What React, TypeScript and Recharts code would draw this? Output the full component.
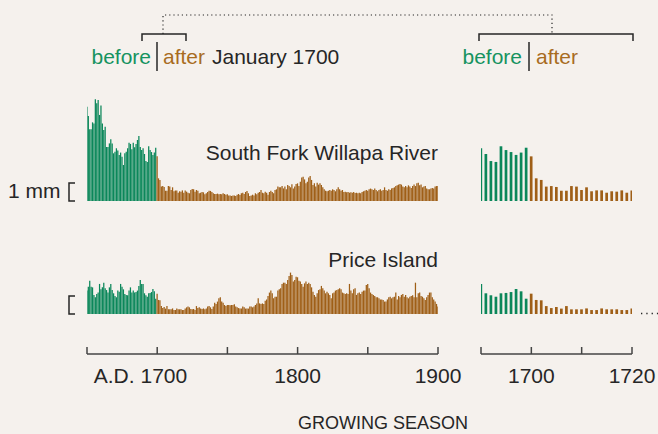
import React from 'react';
import { BarChart, Bar, XAxis, YAxis, Cell } from 'recharts';

// ring width in mm, one value per year starting at 1650
const firstYear = 1650;
const changeYear = 1700;

const willapaMm = [
  5.24, 4.72, 3.98, 3.98, 4.37, 4.31, 5.65, 5.43, 5.61, 4.78, // 1650
  5.3, 4.3, 3.94, 4.13, 3.0, 3.0, 3.2, 3.43, 3.2, 2.65, // 1660
  2.74, 2.93, 2.8, 2.56, 2.69, 2.46, 2.0, 2.65, 2.74, 2.93, // 1670
  3.24, 3.17, 2.87, 3.24, 2.98, 3.17, 3.39, 3.61, 3.0, 2.83, // 1680
  2.93, 2.61, 2.22, 2.17, 3.04, 2.83, 2.72, 2.56, 2.69, 2.96, // 1690
  2.48, 1.26, 1.17, 0.8, 0.83, 0.78, 0.57, 0.57, 0.83, 0.8, // 1700
  0.61, 0.76, 0.54, 0.59, 0.59, 0.46, 0.54, 0.52, 0.59, 0.46, // 1710
  0.59, 0.52, 0.46, 0.43, 0.61, 0.67, 0.65, 0.52, 0.61, 0.57, // 1720
  0.43, 0.46, 0.5, 0.48, 0.37, 0.43, 0.5, 0.57, 0.56, 0.5, // 1730
  0.43, 0.39, 0.39, 0.41, 0.37, 0.39, 0.37, 0.43, 0.39, 0.35, // 1740
  0.37, 0.31, 0.3, 0.28, 0.3, 0.31, 0.28, 0.35, 0.39, 0.33, // 1750
  0.43, 0.46, 0.39, 0.5, 0.56, 0.43, 0.28, 0.31, 0.35, 0.31, // 1760
  0.43, 0.37, 0.46, 0.5, 0.61, 0.46, 0.43, 0.52, 0.46, 0.35, // 1770
  0.5, 0.57, 0.5, 0.43, 0.61, 0.65, 0.8, 0.76, 0.76, 0.83, // 1780
  0.7, 0.8, 0.65, 0.89, 0.83, 0.76, 0.93, 0.7, 0.8, 0.94, // 1790
  0.98, 0.83, 1.07, 1.31, 1.35, 1.2, 0.98, 1.07, 1.31, 1.39, // 1800
  1.17, 0.89, 0.98, 0.8, 1.02, 0.91, 0.98, 0.89, 0.76, 0.65, // 1810
  0.57, 0.54, 0.57, 0.61, 0.57, 0.65, 0.61, 0.54, 0.65, 0.76, // 1820
  0.65, 0.57, 0.61, 0.5, 0.52, 0.48, 0.5, 0.46, 0.48, 0.46, // 1830
  0.5, 0.44, 0.46, 0.43, 0.46, 0.43, 0.5, 0.54, 0.57, 0.61, // 1840
  0.57, 0.65, 0.69, 0.65, 0.61, 0.7, 0.61, 0.54, 0.61, 0.65, // 1850
  0.57, 0.61, 0.76, 0.61, 0.57, 0.65, 0.61, 0.7, 0.72, 0.76, // 1860
  0.83, 0.87, 0.91, 0.94, 0.91, 0.8, 0.76, 0.83, 0.76, 0.87, // 1870
  0.8, 0.72, 0.83, 0.91, 0.83, 0.98, 1.02, 0.87, 0.91, 0.76, // 1880
  0.8, 0.83, 0.69, 0.65, 0.65, 0.69, 0.72, 0.69, 0.8, 0.83, // 1890
  0.83, // 1900
];

const priceIslandMm = [
  1.3, 1.52, 1.85, 1.52, 1.48, 1.06, 0.93, 1.11, 1.19, 1.67, // 1650
  1.37, 1.48, 1.74, 1.43, 1.33, 1.19, 1.48, 1.67, 1.33, 1.15, // 1660
  1.0, 0.93, 1.3, 1.24, 1.67, 1.52, 1.37, 1.11, 1.06, 1.04, // 1670
  1.3, 1.48, 1.19, 1.3, 1.19, 1.22, 1.3, 1.56, 1.89, 1.67, // 1680
  1.67, 1.15, 1.04, 0.96, 1.15, 1.17, 1.22, 1.39, 1.26, 0.85, // 1690
  1.13, 0.78, 0.76, 0.44, 0.33, 0.39, 0.3, 0.44, 0.26, 0.26, // 1700
  0.26, 0.31, 0.22, 0.22, 0.31, 0.26, 0.26, 0.26, 0.22, 0.22, // 1710
  0.31, 0.37, 0.41, 0.37, 0.28, 0.26, 0.28, 0.22, 0.44, 0.33, // 1720
  0.37, 0.31, 0.28, 0.31, 0.26, 0.31, 0.41, 0.44, 0.37, 0.28, // 1730
  0.41, 0.63, 0.56, 0.69, 0.87, 0.93, 0.69, 0.63, 0.5, 0.44, // 1740
  0.5, 0.5, 0.48, 0.5, 0.5, 0.54, 0.41, 0.37, 0.33, 0.31, // 1750
  0.31, 0.41, 0.37, 0.3, 0.31, 0.3, 0.41, 0.41, 0.37, 0.41, // 1760
  0.5, 0.59, 0.87, 0.59, 0.56, 0.59, 0.56, 0.74, 0.81, 1.0, // 1770
  1.19, 1.3, 1.15, 0.87, 0.96, 0.96, 1.3, 1.37, 1.43, 1.67, // 1780
  1.74, 1.74, 1.67, 1.89, 2.11, 2.3, 2.17, 1.8, 1.89, 2.07, // 1790
  2.04, 1.85, 1.8, 1.67, 1.52, 1.7, 1.8, 1.67, 1.74, 1.67, // 1800
  1.48, 1.24, 1.06, 0.96, 1.15, 1.33, 1.37, 1.56, 1.43, 1.3, // 1810
  1.15, 1.24, 1.15, 1.06, 0.87, 1.15, 1.19, 1.3, 1.33, 1.37, // 1820
  1.43, 1.37, 1.19, 1.15, 1.11, 1.15, 1.11, 1.67, 1.3, 1.15, // 1830
  1.37, 1.43, 1.06, 1.15, 1.19, 1.11, 1.24, 1.3, 1.3, 1.61, // 1840
  1.67, 1.43, 1.19, 1.11, 1.06, 1.0, 0.93, 0.93, 0.87, 0.81, // 1850
  0.81, 0.78, 0.69, 0.69, 0.81, 0.93, 0.96, 0.87, 0.93, 0.96, // 1860
  1.19, 0.81, 1.0, 0.93, 1.06, 1.11, 0.96, 1.06, 0.93, 0.87, // 1870
  0.96, 1.0, 1.04, 0.93, 1.74, 0.93, 1.15, 1.19, 1.0, 0.96, // 1880
  0.87, 0.78, 0.93, 1.06, 1.19, 1.19, 0.93, 0.81, 0.69, 0.56, // 1890
  0.41, // 1900
];

const longRange = [1650, 1900];
const longTicks = [1650, 1700, 1750, 1800, 1850, 1900];
const longLabels: Record<number, string> = { 1700: 'A.D. 1700', 1800: '1800', 1900: '1900' };

const zoomRange = [1690, 1720];
const zoomTicks = [1690, 1700, 1710, 1720];
const zoomLabels: Record<number, string> = { 1700: '1700', 1720: '1720' };

const GREEN = '#0b875a';
const BROWN = '#9f5f17';
const GREEN_TEXT = '#16935f';
const BROWN_TEXT = '#a86c1f';
const BG = '#f5f1ed';
const INK = '#262626';
const AXIS = '#444444';
const FONT = '"Liberation Sans", Arial, Helvetica, sans-serif';

const toRows = (values: number[]) => values.map((mm, i) => ({ year: firstYear + i, mm }));
const inRange = (rows: { year: number; mm: number }[], range: number[]) =>
  rows.filter((r) => r.year >= range[0] && r.year <= range[1]);

const willapaRows = toRows(willapaMm);
const priceRows = toRows(priceIslandMm);

const PAD = 6;
const AXIS_PAD = 40;

type SeriesProps = {
  rows: { year: number; mm: number }[];
  range: number[];
  yMax: number;
  left: number;
  top: number;
  plotWidth: number;
  height: number;
  barSize: number;
};

const Series = ({ rows, range, yMax, left, top, plotWidth, height, barSize }: SeriesProps) => (
  <div style={{ position: 'absolute', left: left - PAD, top }}>
    <BarChart
      width={plotWidth + PAD * 2}
      height={height}
      data={rows}
      margin={{ top: 0, right: PAD, bottom: 0, left: PAD }}
    >
      <XAxis dataKey="year" type="number" domain={range} hide allowDataOverflow />
      <YAxis type="number" domain={[0, yMax]} hide allowDataOverflow />
      <Bar dataKey="mm" isAnimationActive={false} barSize={barSize}>
        {rows.map((r) => (
          <Cell key={r.year} fill={r.year < changeYear ? GREEN : BROWN} />
        ))}
      </Bar>
    </BarChart>
  </div>
);

type AxisProps = {
  rows: { year: number; mm: number }[];
  range: number[];
  ticks: number[];
  labels: Record<number, string>;
  left: number;
  lineY: number;
  plotWidth: number;
};

const YearAxis = ({ rows, range, ticks, labels, left, lineY, plotWidth }: AxisProps) => {
  const renderTick = (props: any) => {
    const { x, y, payload } = props;
    const label = labels[payload.value];
    const isAD = label && label.startsWith('A.D.');
    return (
      <g>
        <line x1={x} x2={x} y1={y - 7} y2={y} stroke={AXIS} strokeWidth={1.5} />
        {label && (
          <text
            x={isAD ? x + 30 : x}
            y={y + 29}
            textAnchor={isAD ? 'end' : 'middle'}
            fontSize={21}
            fontFamily={FONT}
            fill={INK}
          >
            {label}
          </text>
        )}
      </g>
    );
  };
  return (
    <div style={{ position: 'absolute', left: left - AXIS_PAD, top: lineY - 20 }}>
      <BarChart
        width={plotWidth + AXIS_PAD * 2}
        height={80}
        data={rows}
        margin={{ top: 0, right: AXIS_PAD, bottom: 0, left: AXIS_PAD }}
      >
        <XAxis
          dataKey="year"
          type="number"
          domain={range}
          ticks={ticks}
          interval={0}
          tickSize={0}
          tickMargin={0}
          tickLine={false}
          axisLine={{ stroke: AXIS, strokeWidth: 1.5 }}
          height={60}
          tick={renderTick}
        />
        <YAxis hide />
      </BarChart>
    </div>
  );
};

const txt = { fontFamily: FONT, fontSize: 21 } as const;

export default function App() {
  return (
    <div
      style={{
        position: 'absolute',
        left: 0,
        top: 0,
        width: 658,
        height: 434,
        background: BG,
        overflow: 'hidden',
      }}
    >
      {/* long record */}
      <Series rows={willapaRows} range={longRange} yMax={6.5} left={87} top={84} plotWidth={351} height={117} barSize={1.25} />
      <Series rows={priceRows} range={longRange} yMax={3} left={87} top={260} plotWidth={351} height={54} barSize={1.25} />
      <YearAxis rows={willapaRows} range={longRange} ticks={longTicks} labels={longLabels} left={87} lineY={354} plotWidth={351} />

      {/* close-up around 1700 */}
      <Series rows={inRange(willapaRows, zoomRange)} range={zoomRange} yMax={6.5} left={481} top={84} plotWidth={151} height={117} barSize={2.7} />
      <Series rows={inRange(priceRows, zoomRange)} range={zoomRange} yMax={3} left={481} top={260} plotWidth={151} height={54} barSize={2.7} />
      <YearAxis rows={inRange(willapaRows, zoomRange)} range={zoomRange} ticks={zoomTicks} labels={zoomLabels} left={481} lineY={354} plotWidth={151} />

      <svg width={658} height={434} style={{ position: 'absolute', left: 0, top: 0, pointerEvents: 'none' }}>
        {/* brackets and connector */}
        <path d="M142 41 V34 H186 V41" fill="none" stroke={INK} strokeWidth={1.5} />
        <path d="M479 41 V34 H633 V41" fill="none" stroke={INK} strokeWidth={1.5} />
        <path d="M163 34 V15 H552 V34" fill="none" stroke={INK} strokeWidth={1.2} strokeDasharray="1.2 3" />

        <text x={151} y={64} textAnchor="end" fill={GREEN_TEXT} {...txt}>before</text>
        <line x1={157} x2={157} y1={42} y2={71} stroke={INK} strokeWidth={1.5} />
        <text x={163} y={64} fill={BROWN_TEXT} {...txt}>after</text>
        <text x={212} y={64} fill={INK} {...txt}>January 1700</text>

        <text x={522} y={64} textAnchor="end" fill={GREEN_TEXT} {...txt}>before</text>
        <line x1={529} x2={529} y1={42} y2={71} stroke={INK} strokeWidth={1.5} />
        <text x={536} y={64} fill={BROWN_TEXT} {...txt}>after</text>

        <text x={438} y={160} textAnchor="end" fill={INK} {...txt}>South Fork Willapa River</text>
        <text x={438} y={267} textAnchor="end" fill={INK} {...txt}>Price Island</text>

        <text x={8} y={198} fill={INK} {...txt}>1 mm</text>
        <path d="M75 183 H69 V201 H75" fill="none" stroke={INK} strokeWidth={1.5} />
        <path d="M75 296 H69 V314 H75" fill="none" stroke={INK} strokeWidth={1.5} />

        <path d="M641 313.5 H658" fill="none" stroke={INK} strokeWidth={1.3} strokeDasharray="1.3 4" />

        <text x={383} y={429} textAnchor="middle" fill={INK} fontFamily={FONT} fontSize={18}>GROWING SEASON</text>
      </svg>
    </div>
  );
}
